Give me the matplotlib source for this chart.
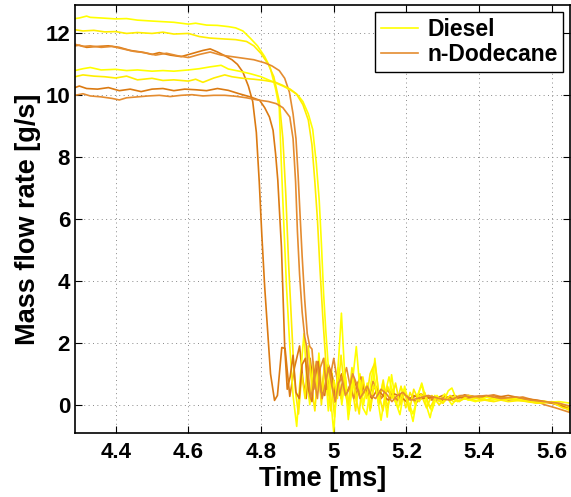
import matplotlib
matplotlib.use("Agg")
import matplotlib.pyplot as plt
from matplotlib.lines import Line2D

plt.rcParams['font.family'] = ['Liberation Sans', 'DejaVu Sans']
plt.rcParams['font.weight'] = 'bold'

# ---- data: (time [ms], mass flow rate [g/s]) ----
diesel_run1 = [(4.288, 12.48), (4.30, 12.50), (4.32, 12.56), (4.33, 12.52), (4.36, 12.50), (4.40, 12.47),
               (4.43, 12.48), (4.46, 12.43), (4.50, 12.40), (4.53, 12.38), (4.56, 12.36), (4.60, 12.30),
               (4.62, 12.33), (4.65, 12.27), (4.68, 12.26), (4.71, 12.22), (4.73, 12.18), (4.75, 12.08),
               (4.77, 11.85), (4.79, 11.60), (4.81, 11.25), (4.825, 10.9), (4.84, 10.2), (4.85, 9.6),
               (4.855, 8.0), (4.862, 6.0), (4.870, 3.8), (4.879, 1.9), (4.888, 0.3), (4.898, -0.7),
               (4.906, 0.6), (4.918, 2.3), (4.926, 0.8), (4.934, 0.0), (4.944, 1.4), (4.952, 0.3),
               (4.959, 1.67), (4.968, 0.2), (4.976, 1.3), (4.985, -0.2), (4.994, 1.1), (5.003, 0.1),
               (5.012, 1.2), (5.022, 0.0), (5.032, 0.9), (5.042, -0.3), (5.052, 0.8), (5.062, 0.1),
               (5.072, 1.0), (5.082, 0.0), (5.092, 0.7), (5.102, -0.1), (5.113, 1.5), (5.125, 0.1),
               (5.135, 0.7), (5.147, -0.4), (5.159, 0.97), (5.17, 0.1), (5.182, -0.32), (5.195, 0.6),
               (5.207, 0.0), (5.218, -0.54), (5.23, 0.3), (5.242, 0.65), (5.254, 0.0), (5.265, -0.42),
               (5.278, 0.3), (5.29, 0.1), (5.305, 0.35), (5.325, 0.0), (5.345, 0.3), (5.37, 0.15),
               (5.40, 0.25), (5.43, 0.12), (5.46, 0.22), (5.50, 0.15), (5.54, 0.1), (5.58, 0.12),
               (5.62, 0.0), (5.65, -0.1)]

diesel_run2 = [(4.288, 12.12), (4.31, 12.08), (4.34, 12.10), (4.37, 12.05), (4.40, 12.06), (4.43, 12.00),
               (4.46, 12.03), (4.50, 12.00), (4.53, 12.04), (4.56, 11.98), (4.60, 12.00), (4.63, 11.90),
               (4.66, 11.85), (4.70, 11.82), (4.73, 11.80), (4.76, 11.74), (4.78, 11.60), (4.80, 11.35),
               (4.82, 11.00), (4.835, 10.6), (4.85, 9.8), (4.86, 8.6), (4.868, 6.8), (4.876, 4.5),
               (4.884, 2.6), (4.890, 1.2), (4.896, 0.3), (4.903, -0.3), (4.912, 1.0), (4.921, 0.2),
               (4.93, 1.9), (4.94, 0.5), (4.948, -0.2), (4.957, 1.2), (4.966, 0.0), (4.975, 1.5),
               (4.984, 0.3), (4.993, 0.9), (5.002, -0.4), (5.011, 1.0), (5.02, 0.2), (5.03, 1.1),
               (5.04, 0.0), (5.05, 0.6), (5.06, -0.2), (5.07, 0.8), (5.08, 0.3), (5.09, 0.6),
               (5.10, -0.2), (5.112, 0.7), (5.124, 0.0), (5.136, 0.8), (5.148, -0.1), (5.16, 0.5),
               (5.172, 0.0), (5.185, 0.6), (5.198, -0.1), (5.21, 0.4), (5.225, 0.0), (5.24, 0.35),
               (5.255, -0.1), (5.27, 0.3), (5.29, 0.0), (5.31, 0.25), (5.33, 0.1), (5.36, 0.2),
               (5.40, 0.12), (5.44, 0.2), (5.48, 0.1), (5.52, 0.15), (5.56, 0.05), (5.60, 0.1),
               (5.63, -0.05), (5.65, -0.2)]

diesel_run3 = [(4.288, 10.80), (4.31, 10.86), (4.33, 10.90), (4.36, 10.82), (4.40, 10.84), (4.43, 10.80),
               (4.46, 10.82), (4.50, 10.78), (4.53, 10.80), (4.56, 10.78), (4.60, 10.82), (4.63, 10.86),
               (4.66, 10.92), (4.69, 10.97), (4.71, 10.85), (4.74, 10.78), (4.77, 10.70), (4.80, 10.60),
               (4.83, 10.45), (4.86, 10.30), (4.88, 10.18), (4.90, 10.02), (4.915, 9.8), (4.93, 9.4),
               (4.942, 8.9), (4.952, 7.8), (4.960, 6.6), (4.966, 5.2), (4.972, 3.6), (4.978, 2.4),
               (4.984, 1.4), (4.99, 0.4), (5.0, -0.91), (5.008, 0.6), (5.014, 1.6), (5.021, 2.96),
               (5.03, 1.0), (5.04, -0.48), (5.05, 0.6), (5.062, 1.88), (5.072, 0.5), (5.08, -0.1),
               (5.09, -0.32), (5.1, 0.5), (5.108, 1.2), (5.118, 0.4), (5.13, -0.5), (5.142, 0.4),
               (5.152, 0.9), (5.165, 0.2), (5.178, -0.1), (5.19, 0.5), (5.205, 0.1), (5.218, -0.3),
               (5.232, 0.3), (5.242, 0.7), (5.256, 0.1), (5.27, -0.2), (5.284, 0.3), (5.3, 0.05),
               (5.315, 0.45), (5.325, 0.54), (5.34, 0.1), (5.36, 0.2), (5.39, 0.1), (5.42, 0.25),
               (5.46, 0.15), (5.50, 0.2), (5.54, 0.1), (5.58, 0.08), (5.62, 0.1), (5.65, 0.05)]

diesel_run4 = [(4.288, 10.60), (4.31, 10.66), (4.34, 10.62), (4.37, 10.60), (4.40, 10.56), (4.43, 10.62),
               (4.46, 10.50), (4.50, 10.55), (4.53, 10.48), (4.56, 10.50), (4.60, 10.46), (4.62, 10.52),
               (4.64, 10.42), (4.67, 10.56), (4.70, 10.66), (4.72, 10.60), (4.75, 10.55), (4.78, 10.52),
               (4.81, 10.48), (4.84, 10.42), (4.86, 10.32), (4.88, 10.20), (4.897, 10.05), (4.915, 9.7),
               (4.93, 9.2), (4.94, 8.4), (4.948, 7.2), (4.955, 6.0), (4.962, 4.4), (4.97, 2.8),
               (4.978, 1.4), (4.985, 0.5), (4.992, -0.2), (5.0, 0.8), (5.01, 0.2), (5.02, 1.6),
               (5.03, 0.4), (5.04, 0.0), (5.05, 1.2), (5.06, 0.3), (5.07, -0.3), (5.08, 0.9),
               (5.09, 0.2), (5.10, 1.0), (5.113, 1.35), (5.125, 0.3), (5.135, -0.2), (5.148, 0.6),
               (5.16, 0.2), (5.17, 0.7), (5.182, 0.0), (5.195, 0.4), (5.208, -0.2), (5.22, 0.5),
               (5.235, 0.1), (5.25, 0.4), (5.265, -0.1), (5.28, 0.25), (5.30, 0.05), (5.32, 0.3),
               (5.345, 0.1), (5.37, 0.3), (5.40, 0.18), (5.44, 0.1), (5.48, 0.2), (5.52, 0.12),
               (5.56, 0.05), (5.60, 0.08), (5.63, -0.1), (5.65, -0.15)]

dodecane_run1 = [(4.288, 11.60), (4.30, 11.62), (4.32, 11.55), (4.35, 11.58), (4.38, 11.60), (4.41, 11.55),
                 (4.44, 11.45), (4.47, 11.40), (4.50, 11.32), (4.52, 11.38), (4.55, 11.30), (4.58, 11.25),
                 (4.61, 11.35), (4.64, 11.45), (4.66, 11.50), (4.68, 11.40), (4.70, 11.28), (4.72, 11.15),
                 (4.735, 11.0), (4.75, 10.75), (4.765, 10.3), (4.777, 9.8), (4.787, 8.8), (4.795, 7.2),
                 (4.802, 5.5), (4.81, 3.8), (4.818, 2.4), (4.826, 1.0), (4.837, 0.14), (4.845, 0.3),
                 (4.857, 1.85), (4.866, 1.82), (4.879, 0.27), (4.892, 1.2), (4.906, 1.9), (4.915, 0.8),
                 (4.924, 0.2), (4.935, 1.5), (4.945, 0.5), (4.955, 1.3), (4.965, 0.3), (4.975, 1.2),
                 (4.985, 0.4), (4.995, 1.0), (5.005, 0.3), (5.02, 0.9), (5.035, 0.35), (5.05, 0.8),
                 (5.065, 0.3), (5.08, 0.7), (5.095, 0.3), (5.11, 0.6), (5.13, 0.2), (5.15, 0.5),
                 (5.17, 0.15), (5.19, 0.4), (5.21, 0.2), (5.24, 0.35), (5.27, 0.15), (5.30, 0.3),
                 (5.33, 0.18), (5.36, 0.32), (5.40, 0.22), (5.44, 0.3), (5.48, 0.15), (5.52, 0.2),
                 (5.56, 0.12), (5.60, 0.05), (5.63, 0.0), (5.65, -0.1)]

dodecane_run2 = [(4.288, 11.65), (4.31, 11.58), (4.33, 11.60), (4.36, 11.55), (4.39, 11.58), (4.42, 11.50),
                 (4.45, 11.42), (4.48, 11.38), (4.51, 11.30), (4.54, 11.36), (4.57, 11.28), (4.60, 11.22),
                 (4.63, 11.32), (4.66, 11.40), (4.69, 11.30), (4.72, 11.25), (4.75, 11.20), (4.78, 11.15),
                 (4.81, 11.05), (4.83, 10.95), (4.85, 10.80), (4.865, 10.55), (4.878, 10.1), (4.888, 9.4),
                 (4.896, 8.6), (4.902, 7.4), (4.907, 6.2), (4.913, 4.8), (4.92, 3.4), (4.927, 2.3),
                 (4.934, 1.88), (4.94, 1.8), (4.947, 0.8), (4.955, 0.2), (4.963, 1.2), (4.972, 1.5),
                 (4.98, 0.5), (4.99, 0.9), (5.0, 1.5), (5.008, 0.9), (5.016, 0.3), (5.025, 0.8),
                 (5.035, 1.2), (5.045, 0.6), (5.055, 0.2), (5.065, 0.7), (5.075, 0.9), (5.085, 0.4),
                 (5.095, 0.3), (5.108, 0.75), (5.12, 0.5), (5.13, 0.2), (5.145, 0.5), (5.16, 0.3),
                 (5.175, 0.15), (5.19, 0.35), (5.21, 0.2), (5.23, 0.1), (5.25, 0.3), (5.28, 0.15),
                 (5.31, 0.25), (5.34, 0.2), (5.37, 0.3), (5.40, 0.25), (5.44, 0.32), (5.48, 0.2),
                 (5.52, 0.25), (5.55, 0.15), (5.58, 0.0), (5.61, -0.1), (5.65, -0.25)]

dodecane_run3 = [(4.288, 10.25), (4.30, 10.30), (4.32, 10.22), (4.35, 10.20), (4.38, 10.25), (4.41, 10.15),
                 (4.44, 10.20), (4.47, 10.12), (4.50, 10.20), (4.53, 10.22), (4.56, 10.15), (4.59, 10.20),
                 (4.62, 10.18), (4.65, 10.15), (4.68, 10.22), (4.71, 10.16), (4.74, 10.05), (4.77, 9.95),
                 (4.796, 9.84), (4.81, 9.6), (4.823, 9.3), (4.833, 8.87), (4.84, 8.1), (4.846, 7.26),
                 (4.856, 5.1), (4.865, 1.88), (4.872, 0.5), (4.88, 0.9), (4.888, 1.6), (4.896, 0.4),
                 (4.905, 0.2), (4.913, 1.3), (4.922, 1.5), (4.93, 0.5), (4.94, 0.1), (4.948, 1.1),
                 (4.957, 1.4), (4.966, 0.4), (4.975, 0.3), (4.985, 1.3), (4.994, 1.0), (5.003, 0.3),
                 (5.012, 0.8), (5.022, 1.0), (5.032, 0.4), (5.042, 0.5), (5.052, 0.9), (5.062, 0.6),
                 (5.072, 0.3), (5.082, 0.6), (5.092, 0.4), (5.105, 0.2), (5.12, 0.5), (5.135, 0.3),
                 (5.15, 0.15), (5.165, 0.35), (5.18, 0.3), (5.20, 0.1), (5.22, 0.3), (5.24, 0.2),
                 (5.27, 0.25), (5.30, 0.15), (5.33, 0.3), (5.36, 0.2), (5.40, 0.28), (5.44, 0.22),
                 (5.48, 0.3), (5.52, 0.2), (5.56, 0.15), (5.60, 0.05), (5.63, -0.05), (5.65, -0.15)]

dodecane_run4 = [(4.288, 10.00), (4.31, 10.05), (4.33, 9.98), (4.36, 9.95), (4.39, 9.90), (4.41, 9.85),
                 (4.43, 9.92), (4.46, 9.95), (4.49, 9.98), (4.52, 10.00), (4.55, 9.96), (4.58, 10.00),
                 (4.61, 10.02), (4.64, 9.98), (4.67, 10.00), (4.70, 10.00), (4.73, 9.97), (4.76, 9.92),
                 (4.79, 9.85), (4.82, 9.80), (4.842, 9.73), (4.86, 9.60), (4.879, 9.3), (4.888, 8.6),
                 (4.895, 7.2), (4.90, 5.6), (4.906, 4.2), (4.913, 3.0), (4.92, 2.2), (4.925, 1.9),
                 (4.93, 1.0), (4.936, 0.2), (4.944, 0.6), (4.952, 1.4), (4.96, 0.9), (4.968, 0.2),
                 (4.977, 0.7), (4.986, 1.2), (4.995, 0.6), (5.004, 0.1), (5.013, 0.7), (5.022, 0.9),
                 (5.032, 0.3), (5.042, 0.5), (5.052, 1.0), (5.062, 0.7), (5.072, 0.2), (5.082, 0.4),
                 (5.092, 0.6), (5.102, 0.3), (5.115, 0.2), (5.13, 0.5), (5.145, 0.35), (5.16, 0.1),
                 (5.175, 0.3), (5.19, 0.4), (5.21, 0.15), (5.23, 0.2), (5.26, 0.3), (5.29, 0.2),
                 (5.32, 0.15), (5.35, 0.3), (5.38, 0.25), (5.42, 0.3), (5.46, 0.2), (5.50, 0.25),
                 (5.54, 0.15), (5.58, 0.1), (5.62, 0.05), (5.65, -0.05)]

x_ticks = [4.4, 4.6, 4.8, 5.0, 5.2, 5.4, 5.6]
x_tick_labels = ['4.4', '4.6', '4.8', '5', '5.2', '5.4', '5.6']
y_ticks = [0, 2, 4, 6, 8, 10, 12]
legend_labels = ['Diesel', 'n-Dodecane']
x_label = 'Time [ms]'
y_label = 'Mass flow rate [g/s]'

# ---- styling ----
yellow_a = '#FFFF00'
yellow_b = '#FFEE00'
orange_a = '#DB7A12'
orange_b = '#E48C30'

fig = plt.figure(figsize=(5.71, 4.97), dpi=100)
ax = fig.add_axes([0.1313, 0.129, 0.867, 0.861])

def draw(run, color):
    ts = [p[0] for p in run]
    vs = [p[1] for p in run]
    ax.plot(ts, vs, color=color, lw=1.2, solid_joinstyle='round')

draw(dodecane_run1, orange_a)
draw(diesel_run1, yellow_a)
draw(diesel_run2, yellow_b)
draw(dodecane_run2, orange_b)
draw(dodecane_run3, orange_a)
draw(diesel_run3, yellow_a)
draw(diesel_run4, yellow_b)
draw(dodecane_run4, orange_b)

ax.set_xlim(4.288, 5.65)
ax.set_ylim(-0.91, 12.92)
ax.set_xticks(x_ticks)
ax.set_xticklabels(x_tick_labels)
ax.set_yticks(y_ticks)
ax.tick_params(direction='in', length=5, width=0.8, top=True, right=True, labelsize=16)
ax.tick_params(axis='x', pad=6.5)
ax.tick_params(axis='y', pad=3.5)
for lab in ax.get_xticklabels() + ax.get_yticklabels():
    lab.set_fontweight('bold')
ax.grid(True, color='#888888', linestyle=(0, (1, 3.5)), linewidth=0.7)
for sp in ax.spines.values():
    sp.set_linewidth(1.2)

ax.set_xlabel(x_label, fontsize=19.5, fontweight='bold', labelpad=2.5)
ax.set_ylabel(y_label, fontsize=19.5, fontweight='bold', labelpad=3)

handles = [Line2D([0], [0], color=yellow_a, lw=1.2),
           Line2D([0], [0], color=orange_b, lw=1.2)]
leg = ax.legend(handles, legend_labels, loc='upper right',
                prop={'weight': 'bold', 'size': 16.5}, frameon=True, fancybox=False,
                edgecolor='black', framealpha=1, borderpad=0.25, labelspacing=0.1,
                handlelength=1.6, handletextpad=0.4, borderaxespad=0.3)
leg.get_frame().set_linewidth(1.0)

fig.savefig('out.png', dpi=100)
